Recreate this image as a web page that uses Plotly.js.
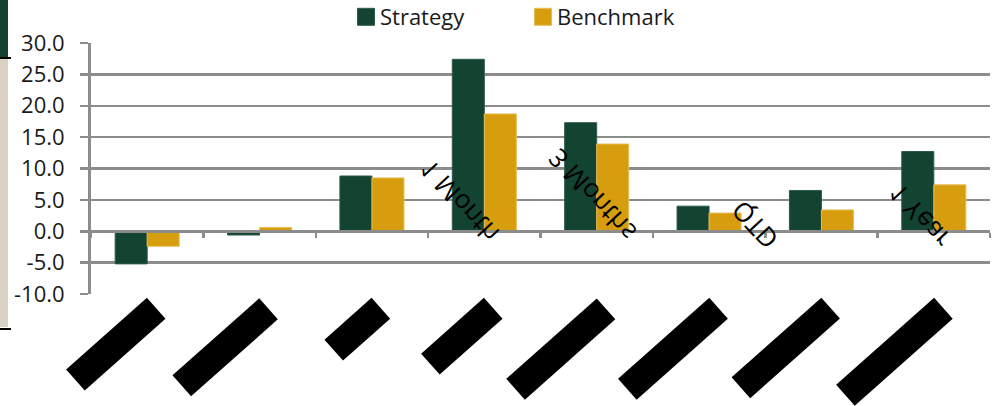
<!DOCTYPE html>
<html>
<head>
<meta charset="utf-8">
<script src="https://cdn.plot.ly/plotly-3.0.1.min.js"></script>
<style>
  html, body { margin: 0; padding: 0; background: #ffffff; }
  #chart { width: 992px; height: 406px; }
</style>
</head>
<body>
<div id="chart"></div>
<script>
// ---- chart data ----
const categories = ['P1', 'P2', 'P3', 'P4', 'P5', 'P6', 'P7', 'P8'];
const strategy   = [-5.2, -0.6, 8.8, 27.4, 17.3, 4.0, 6.5, 12.7];
const benchmark  = [-2.4,  0.6, 8.5, 18.7, 13.9, 2.9, 3.4,  7.4];
const seriesNames = ['Strategy', 'Benchmark'];
const yTickVals = [-10, -5, 0, 5, 10, 15, 20, 25, 30];
const yTickText = ['-10.0', '-5.0', '0.0', '5.0', '10.0', '15.0', '20.0', '25.0', '30.0'];
const periodNotes = ['1 Month', '3 Months', 'QTD', '1 Year'];

// ---- page geometry & styling ----
const W = 992, H = 406;
const M = { l: 91, r: 2, t: 43, b: 112, autoexpand: false };
const plotW = W - M.l - M.r;
const plotH = H - M.t - M.b;
const FONT = '"Open Sans", "Liberation Sans", Arial, sans-serif';
const GREEN = '#134331';
const GOLD = '#d69e0f';
const GRID = '#8c8c8c';

// pixel -> paper helpers for the decorations outside the plot area
const px = v => (v - M.l) / plotW;
const py = v => (H - M.b - v) / plotH;

// masked category labels: rotated black boxes hanging from each category
const boxLen = [108, 116, 63, 84, 121, 122, 120, 131];
const boxThick = 28;
const boxAngle = 41.6;
const a = boxAngle * Math.PI / 180;
const boxTopY = 298;
const maskBoxes = categories.map((c, i) => {
  const L = boxLen[i];
  const dx = -Math.cos(a) * L / 2 + Math.sin(a) * boxThick / 2;
  const cy = boxTopY + Math.sin(a) * L / 2 + Math.cos(a) * boxThick / 2;
  return {
    x: c, xref: 'x', y: 0, yref: 'paper',
    xanchor: 'center', yanchor: 'middle',
    xshift: dx, yshift: -(cy - (H - M.b)),
    width: L, height: boxThick, textangle: -boxAngle,
    text: '', bgcolor: '#000000', borderpad: 0, borderwidth: 0,
    showarrow: false
  };
});

// mirrored period notes inside the plot
const notePlace = [
  { cat: 3, dx: -25, y: 4.7 },
  { cat: 4, dx: -5,  y: 5.8 },
  { cat: 6, dx: -67, y: 1.0 },
  { cat: 7, dx: -15, y: 2.4 }
];
const noteAnns = periodNotes.map((t, k) => ({
  x: categories[notePlace[k].cat], xref: 'x',
  y: notePlace[k].y, yref: 'y',
  xshift: notePlace[k].dx,
  xanchor: 'center', yanchor: 'middle',
  text: t, textangle: 47, showarrow: false,
  font: { family: FONT, size: 26, color: '#000000' }
}));

const traces = [
  {
    type: 'bar', name: seriesNames[0], x: categories, y: strategy,
    marker: { color: GREEN, line: { color: '#2e5a49', width: 1 } }
  },
  {
    type: 'bar', name: seriesNames[1], x: categories, y: benchmark,
    marker: { color: GOLD, line: { color: '#e6bd58', width: 1 } }
  }
];

const layout = {
  width: W, height: H,
  margin: M,
  paper_bgcolor: '#ffffff',
  plot_bgcolor: '#ffffff',
  font: { family: FONT, size: 22, color: '#1a1a1a' },
  barmode: 'group',
  bargap: 0.43,
  bargroupgap: 0,
  showlegend: true,
  legend: {
    orientation: 'h', x: px(340), xanchor: 'left',
    y: py(38), yanchor: 'bottom', yref: 'paper',
    font: { family: FONT, size: 22, color: '#1a1a1a' },
    entrywidth: 132, itemwidth: 30,
    bgcolor: 'rgba(0,0,0,0)', traceorder: 'normal'
  },
  xaxis: {
    type: 'category', range: [-0.5, 7.5],
    anchor: 'free', position: 0.25,
    showgrid: false, zeroline: false,
    showline: true, linecolor: GRID, linewidth: 2.5,
    ticks: 'outside', tickson: 'boundaries', ticklen: 5,
    tickwidth: 2.5, tickcolor: GRID,
    showticklabels: false, fixedrange: true
  },
  yaxis: {
    range: [-10, 30],
    tickmode: 'array', tickvals: yTickVals, ticktext: yTickText,
    showgrid: true, gridcolor: GRID, gridwidth: 2.5,
    zeroline: false,
    showline: true, linecolor: GRID, linewidth: 3,
    ticks: 'outside', ticklen: 8, tickwidth: 2.5, tickcolor: GRID,
    ticklabelstandoff: 11,
    tickfont: { family: FONT, size: 22, color: '#1a1a1a' },
    fixedrange: true
  },
  shapes: [
    { type: 'rect', xref: 'paper', yref: 'paper', x0: px(0), x1: px(8), y0: py(0), y1: py(57),
      fillcolor: '#12412f', line: { width: 0 }, layer: 'above' },
    { type: 'rect', xref: 'paper', yref: 'paper', x0: px(0), x1: px(8), y0: py(59), y1: py(327),
      fillcolor: '#d9d1c3', line: { width: 0 }, layer: 'above' },
    { type: 'line', xref: 'paper', yref: 'paper', x0: px(0), x1: px(11), y0: py(58), y1: py(58),
      line: { color: '#000000', width: 2 }, layer: 'above' },
    { type: 'line', xref: 'paper', yref: 'paper', x0: px(0), x1: px(11), y0: py(329), y1: py(329),
      line: { color: '#000000', width: 2 }, layer: 'above' }
  ],
  annotations: maskBoxes.concat(noteAnns)
};

Plotly.newPlot('chart', traces, layout, { displayModeBar: false, staticPlot: true }).then(gd => {
  // flip the period notes across their own baseline so they read mirrored
  const first = maskBoxes.length;
  periodNotes.forEach((t, k) => {
    const g = gd.querySelector('g.annotation[data-index="' + (first + k) + '"]');
    if (!g) return;
    const txt = g.querySelector('text.annotation-text');
    if (!txt) return;
    const bb = txt.getBBox();
    const cy = bb.y + bb.height / 2;
    txt.setAttribute('transform', 'translate(0,' + (2 * cy) + ') scale(1,-1)');
  });
  // larger legend swatches sitting close to their labels
  gd.querySelectorAll('g.legend g.legendpoints path').forEach(p => {
    p.setAttribute('d', 'M14.5,8.5H-2.5V-8.5H14.5Z');
  });
});
</script>
</body>
</html>
